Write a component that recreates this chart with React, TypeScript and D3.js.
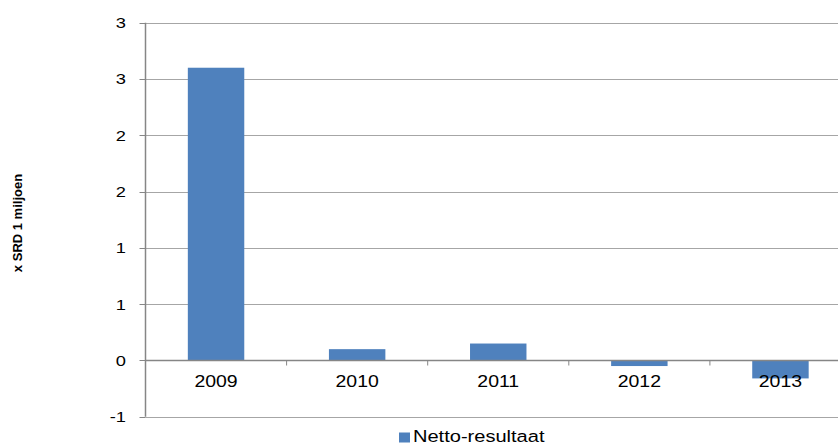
import React, { useRef, useEffect } from 'react';
import * as d3 from 'd3';

const years = ['2009', '2010', '2011', '2012', '2013'];
const nettoResultaat = [2.6, 0.1, 0.15, -0.05, -0.16];
const yTickValues = [-0.5, 0, 0.5, 1, 1.5, 2, 2.5, 3];
const yTickLabels = ['-1', '0', '1', '1', '2', '2', '3', '3'];
const seriesName = 'Netto-resultaat';
const yAxisTitle = 'x SRD 1 miljoen';

const width = 838;
const height = 444;
const FONT = 'Liberation Sans, Arial, sans-serif';
const STRETCH = 1.18; // the source picture is a little wide

const App = () => {
  const svgRef = useRef<SVGSVGElement>(null);

  useEffect(() => {
    const root = d3.select(svgRef.current);
    root.selectAll('*').remove();

    const plot = { left: 145.5, right: 851, top: 22.7, bottom: 416.7 };

    const xScale = d3.scaleBand()
      .domain(years)
      .range([plot.left, plot.right])
      .paddingInner(0.6)
      .paddingOuter(0.3);

    const yScale = d3.scaleLinear()
      .domain([-0.5, 3])
      .range([plot.bottom, plot.top]);

    // horizontal gridlines
    root.append('g')
      .selectAll('line')
      .data(yTickValues)
      .enter()
      .append('line')
      .attr('x1', plot.left)
      .attr('x2', plot.right)
      .attr('y1', d => Math.round(yScale(d)) + 0.5)
      .attr('y2', d => Math.round(yScale(d)) + 0.5)
      .attr('stroke', '#a6a6a6')
      .attr('stroke-width', 1);

    // y tick marks
    root.append('g')
      .selectAll('line')
      .data(yTickValues)
      .enter()
      .append('line')
      .attr('x1', plot.left - 6)
      .attr('x2', plot.left)
      .attr('y1', d => Math.round(yScale(d)) + 0.5)
      .attr('y2', d => Math.round(yScale(d)) + 0.5)
      .attr('stroke', '#868686');

    // y tick labels
    root.append('g')
      .selectAll('text')
      .data(yTickValues)
      .enter()
      .append('text')
      .attr('transform', d => `translate(126,${yScale(d) + 5.5}) scale(${STRETCH},1)`)
      .attr('text-anchor', 'end')
      .style('font-family', FONT)
      .style('font-size', '15.5px')
      .attr('fill', '#000')
      .text((d, i) => yTickLabels[i]);

    // bars
    root.append('g')
      .selectAll('rect')
      .data(nettoResultaat)
      .enter()
      .append('rect')
      .attr('x', (d, i) => xScale(years[i]) as number)
      .attr('y', d => yScale(Math.max(0, d)))
      .attr('width', xScale.bandwidth())
      .attr('height', d => Math.abs(yScale(d) - yScale(0)))
      .attr('fill', '#4f81bd');

    // zero axis + category ticks
    const y0 = Math.round(yScale(0)) + 0.5;
    root.append('line')
      .attr('x1', plot.left)
      .attr('x2', plot.right)
      .attr('y1', y0)
      .attr('y2', y0)
      .attr('stroke', '#868686')
      .attr('stroke-width', 1.5);

    const step = xScale.step();
    root.append('g')
      .selectAll('line')
      .data(years)
      .enter()
      .append('line')
      .attr('x1', d => (xScale(d) as number) + xScale.bandwidth() / 2 + step / 2)
      .attr('x2', d => (xScale(d) as number) + xScale.bandwidth() / 2 + step / 2)
      .attr('y1', y0)
      .attr('y2', y0 + 5)
      .attr('stroke', '#868686');

    // vertical axis
    root.append('line')
      .attr('x1', plot.left)
      .attr('x2', plot.left)
      .attr('y1', plot.top)
      .attr('y2', plot.bottom)
      .attr('stroke', '#868686')
      .attr('stroke-width', 1.5);

    // year labels
    root.append('g')
      .selectAll('text')
      .data(years)
      .enter()
      .append('text')
      .attr('transform', d => `translate(${(xScale(d) as number) + xScale.bandwidth() / 2},${y0 + 26.5}) scale(${STRETCH},1)`)
      .attr('text-anchor', 'middle')
      .style('font-family', FONT)
      .style('font-size', '16.5px')
      .attr('fill', '#000')
      .text(d => d);

    // y axis title
    root.append('text')
      .attr('transform', 'translate(22,223) rotate(-90)')
      .attr('text-anchor', 'middle')
      .style('font-family', FONT)
      .style('font-size', '13px')
      .style('font-weight', 'bold')
      .attr('fill', '#000')
      .text(yAxisTitle);

    // legend
    const legend = root.append('g');
    legend.append('rect')
      .attr('x', 399)
      .attr('y', 432.5)
      .attr('width', 11)
      .attr('height', 10)
      .attr('fill', '#4f81bd');
    legend.append('text')
      .attr('transform', `translate(413,442) scale(${STRETCH},1)`)
      .style('font-family', FONT)
      .style('font-size', '17px')
      .attr('fill', '#000')
      .text(seriesName);
  }, []);

  return (
    <svg
      ref={svgRef}
      width={width}
      height={height}
      style={{ position: 'absolute', left: 0, top: 0, background: '#fff' }}
    />
  );
};

export default App;
